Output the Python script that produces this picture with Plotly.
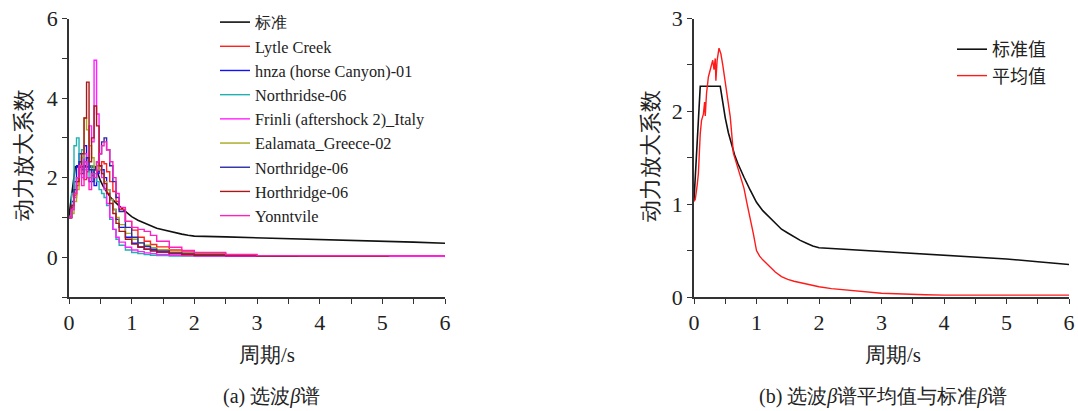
import plotly.graph_objects as go

# ---------------- data ----------------
PERIOD = [0, 0.04, 0.08, 0.12, 0.16, 0.2, 0.24, 0.28, 0.32, 0.36, 0.4, 0.44, 0.48,
          0.52, 0.56, 0.6, 0.65, 0.7, 0.75, 0.8, 0.9, 1.0, 1.1, 1.2, 1.3, 1.4, 1.6,
          1.8, 2.0, 2.5, 3.0]

STD_T = [0, 0.05, 0.1, 0.42, 0.45, 0.5, 0.55, 0.6, 0.65, 0.7, 0.75, 0.8, 0.9, 1.0,
         1.1, 1.2, 1.3, 1.4, 1.5, 1.6, 1.7, 1.8, 1.9, 2.0, 2.5, 3.0, 3.5, 4.0, 4.5,
         5.0, 5.5, 6.0]
STD_V = [1.04, 1.6, 2.27, 2.27, 2.12, 1.93, 1.77, 1.64, 1.53, 1.44, 1.36, 1.29, 1.15,
         1.02, 0.93, 0.86, 0.79, 0.73, 0.69, 0.65, 0.61, 0.58, 0.55, 0.53, 0.51, 0.49,
         0.47, 0.45, 0.43, 0.41, 0.38, 0.35]

WAVE_NAMES = ["Lytle Creek", "hnza (horse Canyon)-01", "Northridse-06",
              "Frinli (aftershock 2)_Italy", "Ealamata_Greece-02", "Northridge-06",
              "Horthridge-06", "Yonntvile"]
WAVE_COLORS = ["#ff2020", "#1010ff", "#20b0b0", "#ff20ff", "#a8a820", "#2a2aa8",
               "#a81818", "#ff20c0"]

LYTLE = [1.0, 1.25, 1.55, 1.8, 2.1, 2.25, 1.95, 2.15, 2.3, 2.05, 2.2, 2.15, 2.3, 2.4,
         2.35, 2.15, 1.9, 1.65, 1.4, 1.2, 0.9, 0.68, 0.5, 0.4, 0.32, 0.26, 0.18, 0.13,
         0.1, 0.06, 0.04]
HNZA = [1.0, 1.4, 1.9, 2.3, 2.6, 2.2, 2.8, 2.0, 1.9, 2.2, 1.8, 2.1, 2.3, 2.2, 2.0,
        1.7, 1.45, 1.2, 0.95, 0.75, 0.5, 0.35, 0.26, 0.2, 0.16, 0.13, 0.09, 0.07,
        0.05, 0.04, 0.03]
NORTHRIDSE = [1.0, 1.6, 2.8, 3.0, 2.4, 2.7, 2.2, 2.5, 2.0, 2.3, 2.1, 1.9, 1.7, 1.6,
              1.5, 1.3, 0.95, 0.7, 0.45, 0.3, 0.18, 0.12, 0.09, 0.07, 0.05, 0.04,
              0.03, 0.03, 0.02, 0.02, 0.02]
FRINLI = [1.0, 1.2, 1.5, 1.9, 2.3, 2.0, 2.6, 2.2, 3.3, 2.9, 4.95, 3.6, 2.2, 2.0, 1.7,
          1.35, 1.0, 0.7, 0.5, 0.38, 0.25, 0.18, 0.14, 0.11, 0.09, 0.07, 0.05, 0.04,
          0.03, 0.02, 0.02]
EALAMATA = [1.0, 1.1, 1.4, 1.7, 2.1, 2.5, 3.5, 3.2, 2.8, 2.5, 2.2, 2.3, 2.2, 2.1,
            1.9, 1.7, 1.45, 1.2, 1.0, 0.82, 0.6, 0.45, 0.36, 0.3, 0.24, 0.19, 0.13,
            0.1, 0.08, 0.05, 0.03]
NORTHRIDGE = [1.0, 1.3, 1.7, 2.0, 2.4, 2.1, 2.3, 2.5, 2.2, 1.9, 2.2, 2.4, 2.6, 2.9,
              3.0, 2.7, 2.3, 1.9, 1.5, 1.15, 0.75, 0.5, 0.36, 0.27, 0.2, 0.16, 0.11,
              0.08, 0.06, 0.04, 0.03]
HORTHRIDGE = [1.0, 1.3, 1.6, 1.9, 2.3, 2.6, 3.5, 4.4, 2.4, 3.0, 3.8, 3.3, 2.3, 2.1,
              1.85, 1.6, 1.35, 1.1, 0.85, 0.65, 0.45, 0.33, 0.25, 0.2, 0.16, 0.13,
              0.09, 0.07, 0.05, 0.04, 0.03]
YONNTVILE = [1.0, 1.2, 1.6, 2.0, 2.3, 1.8, 2.4, 2.0, 1.7, 2.1, 2.0, 2.4, 2.6, 2.8,
             2.9, 2.7, 2.4, 2.0, 1.6, 1.25, 0.9, 0.75, 0.7, 0.65, 0.55, 0.4, 0.25,
             0.17, 0.12, 0.07, 0.04]
WAVES = [LYTLE, HNZA, NORTHRIDSE, FRINLI, EALAMATA, NORTHRIDGE, HORTHRIDGE, YONNTVILE]
TAIL_T = [5.1, 3.65, 3.3, 6.0, 3.2, 3.65, 5.1, 6.0]
TAIL_V = [0.02, 0.02, 0.01, 0.0, 0.03, 0.02, 0.02, 0.01]

MEAN_T = [0, 0.02, 0.05, 0.07, 0.1, 0.12, 0.15, 0.17, 0.18, 0.2, 0.23, 0.26, 0.28,
          0.3, 0.32, 0.34, 0.35, 0.37, 0.4, 0.43, 0.46, 0.5, 0.55, 0.58, 0.63, 0.7,
          0.75, 0.8, 0.85, 0.9, 0.95, 1.0, 1.05, 1.1, 1.2, 1.3, 1.4, 1.5, 1.6, 1.8,
          2.0, 2.2, 2.5, 2.8, 3.0, 3.7, 4.0, 5.0, 6.0]
MEAN_V = [1.03, 1.05, 1.2, 1.33, 1.76, 1.9, 1.97, 2.1, 1.95, 2.19, 2.37, 2.45, 2.51,
          2.55, 2.45, 2.57, 2.33, 2.55, 2.68, 2.62, 2.5, 2.3, 2.1, 1.94, 1.55, 1.4,
          1.28, 1.17, 1.0, 0.85, 0.68, 0.5, 0.44, 0.4, 0.33, 0.27, 0.22, 0.19, 0.17,
          0.14, 0.11, 0.09, 0.07, 0.05, 0.04, 0.025, 0.02, 0.02, 0.02]

X_TICKS = [0, 0.5, 1, 1.5, 2, 2.5, 3, 3.5, 4, 4.5, 5, 5.5, 6]
X_LABELS = ["0", "", "1", "", "2", "", "3", "", "4", "", "5", "", "6"]
Y1_TICKS = [-1, 0, 1, 2, 3, 4, 5, 6]
Y1_LABELS = ["", "0", "", "2", "", "4", "", "6"]
Y2_TICKS = [0, 0.5, 1, 1.5, 2, 2.5, 3]
Y2_LABELS = ["0", "", "1", "", "2", "", "3"]

# ---------------- figure ----------------
W, H = 1078, 411
SERIF = "Liberation Serif"
CJK = "Noto Sans CJK SC"
TXT = "#222222"

fig = go.Figure()

fig.add_trace(go.Scatter(x=STD_T, y=STD_V, mode="lines", name="标准",
                         line=dict(color="#111111", width=1.6),
                         xaxis="x", yaxis="y", legend="legend"))
for name, col, vals, tt, tv in zip(WAVE_NAMES, WAVE_COLORS, WAVES, TAIL_T, TAIL_V):
    fig.add_trace(go.Scatter(x=PERIOD + [tt], y=vals + [tv], mode="lines", name=name,
                             line=dict(color=col, width=1.4, shape="hv"),
                             xaxis="x", yaxis="y", legend="legend"))

fig.add_trace(go.Scatter(x=STD_T, y=STD_V, mode="lines", name="标准值",
                         line=dict(color="#111111", width=1.6),
                         xaxis="x2", yaxis="y2", legend="legend2"))
fig.add_trace(go.Scatter(x=MEAN_T, y=MEAN_V, mode="lines", name="平均值",
                         line=dict(color="#ff1a1a", width=1.4),
                         xaxis="x2", yaxis="y2", legend="legend2"))

axis_common = dict(showline=True, linecolor="#333333", linewidth=1.6, ticks="outside",
                   ticklen=5, tickwidth=1.4, tickcolor="#333333", showgrid=False,
                   zeroline=False, automargin=False,
                   tickfont=dict(family=SERIF, size=22, color=TXT))

y_bot = 1 - 297 / H
y_top = 1 - 18.5 / H

fig.update_layout(
    width=W, height=H,
    margin=dict(l=0, r=0, t=0, b=0, autoexpand=False),
    paper_bgcolor="white", plot_bgcolor="white",
    xaxis=dict(domain=[69 / W, 445 / W], range=[0, 6], tickvals=X_TICKS,
               ticktext=X_LABELS, anchor="y", **axis_common),
    yaxis=dict(domain=[y_bot, y_top], range=[-1, 6], tickvals=Y1_TICKS,
               ticktext=Y1_LABELS, anchor="x", **axis_common),
    xaxis2=dict(domain=[694 / W, 1069 / W], range=[0, 6], tickvals=X_TICKS,
                ticktext=X_LABELS, anchor="y2", **axis_common),
    yaxis2=dict(domain=[y_bot, y_top], range=[0, 3], tickvals=Y2_TICKS,
                ticktext=Y2_LABELS, anchor="x2", **axis_common),
    legend=dict(x=215 / W, y=1 - 5 / H, xanchor="left", yanchor="top",
                font=dict(family=SERIF, size=16.3, color=TXT), bgcolor="rgba(0,0,0,0)",
                tracegroupgap=0, itemwidth=30),
    legend2=dict(x=952 / W, y=1 - 31 / H, xanchor="left", yanchor="top",
                 font=dict(family=CJK, size=18, color=TXT), bgcolor="rgba(0,0,0,0)",
                 tracegroupgap=0, itemwidth=30),
    showlegend=True,
)

annotations = [
    dict(text="动力放大系数", x=23 / W, y=1 - 155 / H, textangle=-90, size=22),
    dict(text="动力放大系数", x=650 / W, y=1 - 156 / H, textangle=-90, size=22),
    dict(text="周期/s", x=267 / W, y=1 - 355 / H, textangle=0),
    dict(text="周期/s", x=893 / W, y=1 - 355 / H, textangle=0),
    dict(text="(a) 选波<i>β</i>谱", x=271 / W, y=1 - 396 / H, textangle=0, size=20),
    dict(text="(b) 选波<i>β</i>谱平均值与标准<i>β</i>谱", x=883 / W, y=1 - 396 / H,
         textangle=0, size=20),
]
for a in annotations:
    fig.add_annotation(text=a["text"], x=a["x"], y=a["y"], xref="paper", yref="paper",
                       xanchor="center", yanchor="middle", showarrow=False,
                       textangle=a["textangle"],
                       font=dict(family=SERIF, size=a.get("size", 21), color=TXT))

fig.write_html("out.html", config={"displayModeBar": False},
               post_script="document.body.style.margin='0';document.body.style.overflow='hidden';")
